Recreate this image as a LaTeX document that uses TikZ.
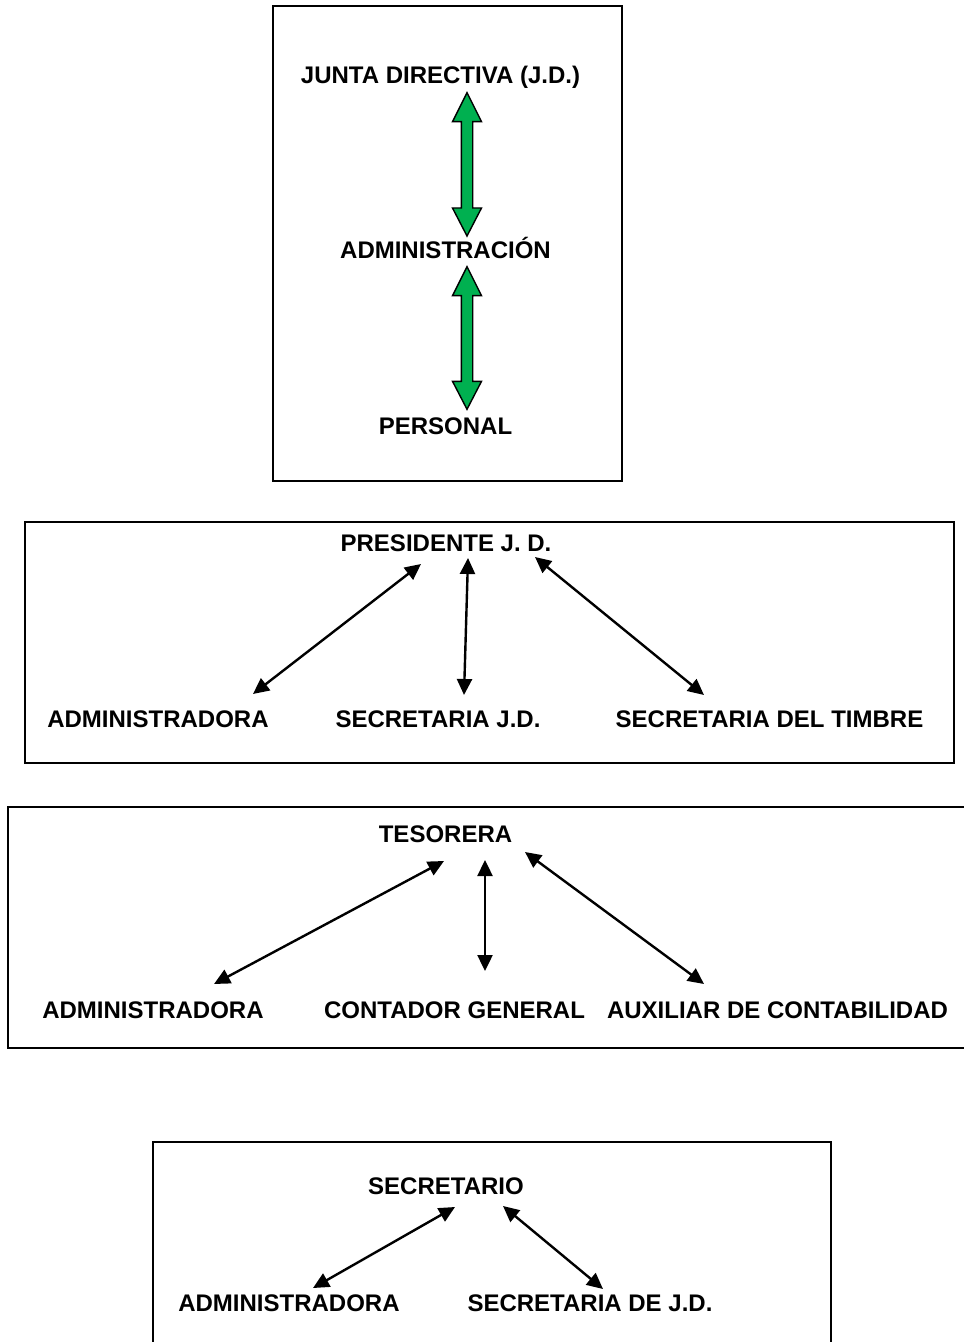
\documentclass[tikz,border=0pt]{standalone}
\usepackage{fontspec}
\setmainfont{Liberation Sans}
\usetikzlibrary{arrows.meta,positioning}

\definecolor{officegreen}{RGB}{0,176,80}

% green double arrow: x, top tip, bottom tip
\newcommand{\greenarrow}[3]{%
  \filldraw[garrow] (#1,#2) -- (#1+14.5,#2+29) -- (#1+5.7,#2+29) -- (#1+5.7,#3-28)
    -- (#1+14.5,#3-28) -- (#1,#3) -- (#1-14.5,#3-28) -- (#1-5.7,#3-28)
    -- (#1-5.7,#2+29) -- (#1-14.5,#2+29) -- cycle;}

\begin{document}
\begin{tikzpicture}[
  x=0.5pt, y=-0.5pt,
  lbl/.style={anchor=base, inner sep=0pt, font=\fontsize{12}{14}\selectfont\bfseries},
  frame/.style={draw=black, line width=0.9pt},
  garrow/.style={fill=officegreen, draw=black, line width=0.7pt, line join=miter},
  link/.style={{Triangle[length=8pt,width=7.5pt]}-{Triangle[length=8pt,width=7.5pt]}, line width=1.2pt}
]
\useasboundingbox (0,0) rectangle (963,1342);

% box 1
\draw[frame] (273,6) rectangle (622,481);
\node[lbl] (jd)  at (440.5,83.5) {JUNTA DIRECTIVA (J.D.)};
\node[lbl] (adm) at (445.5,259)  {ADMINISTRACIÓN};
\node[lbl] (per) at (445.5,434)  {PERSONAL};
\greenarrow{467}{92.7}{236}
\greenarrow{467}{266.7}{409.3}

% box 2
\draw[frame] (25,522) rectangle (954,763);
\node[lbl] (pres) at (446,551)   {PRESIDENTE J. D.};
\node[lbl] (adm2) at (158,727)   {ADMINISTRADORA};
\node[lbl] (sjd)  at (438,727)   {SECRETARIA J.D.};
\node[lbl] (stim) at (769.5,727) {SECRETARIA DEL TIMBRE};
\coordinate (p1) at (421,564); \coordinate (q1) at (253,694);
\coordinate (p2) at (468,558); \coordinate (q2) at (464,695);
\coordinate (p3) at (535,557); \coordinate (q3) at (704,695);
\draw[link] (p1) -- (q1);
\draw[link] (p2) -- (q2);
\draw[link] (p3) -- (q3);

% box 3
\draw[frame] (8,807) rectangle (968,1048);
\node[lbl] (tes)  at (445.5,842) {TESORERA};
\node[lbl] (adm3) at (153,1018)  {ADMINISTRADORA};
\node[lbl] (cg)   at (454.5,1018) {CONTADOR GENERAL};
\node[lbl] (aux)  at (777.5,1018) {AUXILIAR DE CONTABILIDAD};
\coordinate (t1) at (444,861); \coordinate (u1) at (214,984);
\coordinate (t2) at (485,860); \coordinate (u2) at (485,971);
\coordinate (t3) at (525,852); \coordinate (u3) at (704,984);
\draw[link] (t1) -- (u1);
\draw[link] (t2) -- (u2);
\draw[link] (t3) -- (u3);

% box 4
\draw[frame] (153,1142) rectangle (831,1350);
\node[lbl] (sec)  at (446,1194) {SECRETARIO};
\node[lbl] (adm4) at (289,1311) {ADMINISTRADORA};
\node[lbl] (sdjd) at (590,1311) {SECRETARIA DE J.D.};
\coordinate (s1) at (455,1207); \coordinate (v1) at (313,1288);
\coordinate (s2) at (503,1206); \coordinate (v2) at (603,1289);
\draw[link] (s1) -- (v1);
\draw[link] (s2) -- (v2);
\end{tikzpicture}
\end{document}
